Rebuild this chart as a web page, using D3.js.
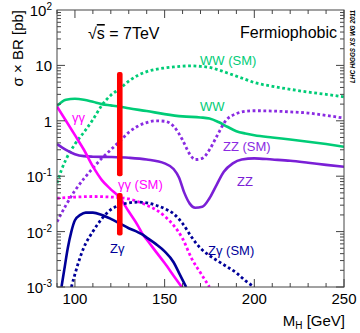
<!DOCTYPE html>
<html>
<head>
<meta charset="utf-8">
<script src="https://cdn.jsdelivr.net/npm/d3@7"></script>
<style>
  body { margin: 0; background: #fff; }
  text { font-family: "Liberation Sans", Arial, sans-serif; }
</style>
</head>
<body>
<svg id="chart" width="360" height="333"></svg>
<script>
// [M_H, sigma x BR]
const wwSM = [[90,0.075],[92.5,0.13],[95,0.2],[100,0.38],[105,0.62],[110,1.05],[115,1.9],[120,2.9],[125,3.8],[130,5.2],[135,6.6],[140,7.7],[145,8.5],[150,9.0],[155,9.4],[160,9.7],[165,9.8],[170,9.6],[175,9.2],[180,8.3],[185,7.3],[190,6.4],[195,5.6],[200,4.9],[210,4.2],[220,3.7],[230,3.3],[240,3.0],[250,2.7]];
const ww = [[90,1.85],[95,2.4],[100,2.5],[105,2.4],[110,2.2],[115,2.0],[120,1.9],[125,1.8],[130,1.68],[140,1.5],[150,1.32],[160,1.2],[170,1.15],[175,1.1],[180,0.95],[185,0.78],[190,0.65],[195,0.59],[200,0.55],[210,0.5],[220,0.46],[230,0.42],[240,0.38],[250,0.34]];
const zzSM = [[90,0.015],[95,0.03],[100,0.055],[105,0.09],[110,0.14],[115,0.21],[120,0.3],[125,0.43],[130,0.62],[135,0.8],[140,0.93],[145,1.0],[150,0.98],[155,0.8],[160,0.45],[164,0.25],[167,0.2],[171,0.21],[175,0.3],[179,0.52],[184,1.0],[190,1.35],[195,1.48],[200,1.52],[210,1.5],[220,1.45],[230,1.38],[240,1.25],[250,1.12]];
const zz = [[90,0.38],[95,0.3],[100,0.25],[105,0.23],[110,0.225],[120,0.222],[130,0.215],[140,0.2],[150,0.17],[155,0.135],[158,0.095],[161,0.05],[164,0.032],[167,0.027],[171,0.028],[175,0.04],[179,0.07],[183,0.12],[188,0.17],[193,0.2],[200,0.21],[210,0.2],[220,0.19],[230,0.175],[240,0.16],[250,0.148]];
const aaSM = [[90,0.04],[100,0.042],[110,0.043],[120,0.042],[125,0.041],[130,0.039],[135,0.035],[140,0.03],[145,0.025],[150,0.019],[155,0.013],[160,0.0075],[165,0.0033],[170,0.0018],[175,0.001]];
const aa = [[90,1.8],[95,1.0],[100,0.55],[105,0.3],[110,0.15],[115,0.085],[120,0.058],[125,0.041],[130,0.023],[135,0.013],[138,0.0087],[140,0.0072],[145,0.0044],[150,0.0027],[155,0.0016],[160,0.00095]];
const zaSM = [[98,0.001],[100,0.0017],[102,0.0028],[105,0.0052],[110,0.01],[115,0.017],[120,0.025],[125,0.03],[130,0.033],[135,0.034],[140,0.033],[145,0.03],[150,0.026],[155,0.021],[160,0.014],[165,0.008],[170,0.005],[175,0.0037],[180,0.0029],[185,0.0023],[190,0.0018],[195,0.0013],[200,0.001]];
const za = [[92.5,0.001],[94,0.002],[96,0.005],[98,0.01],[100,0.016],[103,0.02],[106,0.022],[110,0.022],[115,0.02],[120,0.017],[125,0.014],[130,0.0115],[135,0.0098],[138,0.0087],[140,0.0078],[145,0.006],[150,0.0044],[155,0.0028],[158,0.0018],[162,0.001]];

// red marker at 125 GeV, two segments [mass, low, high]
const redBars = [[125, 0.1, 7.6], [125, 0.0085, 0.05]];

const xTicks = [100, 150, 200, 250];
const yTicks = [[100, "10", "2"], [10, "10", ""], [1, "1", ""], [0.1, "10", "-1"], [0.01, "10", "-2"], [0.001, "10", "-3"]];

const series = [
  {data: wwSM, color: "#00cc77", dotted: true},
  {data: ww, color: "#00cc77", dotted: false},
  {data: zzSM, color: "#8a2be2", dotted: true},
  {data: zz, color: "#7a1fd6", dotted: false},
  {data: aaSM, color: "#ff00ff", dotted: true},
  {data: aa, color: "#ff00ff", dotted: false},
  {data: zaSM, color: "#000099", dotted: true},
  {data: za, color: "#000099", dotted: false}
];

const labels = [
  {t: "WW (SM)", x: 200, y: 65, c: "#00cc77"},
  {t: "WW", x: 200, y: 111, c: "#00cc77"},
  {t: "ZZ (SM)", x: 223, y: 151, c: "#8a2be2"},
  {t: "ZZ", x: 237, y: 186, c: "#7a1fd6"},
  {t: "γγ", x: 72, y: 122, c: "#ff00ff"},
  {t: "γγ (SM)", x: 118, y: 189, c: "#ff00ff"},
  {t: "Zγ", x: 110, y: 253, c: "#000099"},
  {t: "Zγ (SM)", x: 208, y: 255, c: "#000099"}
];

const mLeft = 57, mRight = 344, mTop = 10, mBottom = 287;
const svg = d3.select("#chart");

const x = d3.scaleLinear().domain([90, 250]).range([mLeft, mRight]);
const y = d3.scaleLog().domain([0.001, 100]).range([mBottom, mTop]);

svg.append("clipPath").attr("id", "clip")
  .append("rect").attr("x", mLeft).attr("y", mTop)
  .attr("width", mRight - mLeft).attr("height", mBottom - mTop);

const line = d3.line()
  .x(d => x(d[0]))
  .y(d => y(d[1]))
  .curve(d3.curveMonotoneX);

const plot = svg.append("g").attr("clip-path", "url(#clip)");

series.forEach(s => {
  plot.append("path")
    .attr("d", line(s.data))
    .attr("fill", "none")
    .attr("stroke", s.color)
    .attr("stroke-width", s.dotted ? 2.8 : 2.6)
    .attr("stroke-dasharray", s.dotted ? "2.8,2.6" : null);
});

plot.selectAll("rect.red")
  .data(redBars)
  .enter()
  .append("rect")
  .attr("class", "red")
  .attr("x", d => x(d[0]) - 2.8)
  .attr("width", 5.6)
  .attr("y", d => y(d[2]))
  .attr("height", d => y(d[1]) - y(d[2]))
  .attr("rx", 2)
  .attr("fill", "#ff0000");

// frame and ticks
const frame = svg.append("g").attr("stroke", "#444").attr("stroke-width", 1);
frame.append("rect")
  .attr("x", mLeft).attr("y", mTop)
  .attr("width", mRight - mLeft).attr("height", mBottom - mTop)
  .attr("fill", "none");

d3.range(90, 251, 10).forEach(m => {
  const len = m % 50 === 0 ? 8 : 4;
  frame.append("line").attr("x1", x(m)).attr("x2", x(m)).attr("y1", mBottom).attr("y2", mBottom - len);
  frame.append("line").attr("x1", x(m)).attr("x2", x(m)).attr("y1", mTop).attr("y2", mTop + len);
});

d3.range(-3, 2).forEach(e => {
  d3.range(1, 10).forEach(k => {
    const v = k * Math.pow(10, e);
    const len = k === 1 ? 8 : 4;
    frame.append("line").attr("x1", mLeft).attr("x2", mLeft + len).attr("y1", y(v)).attr("y2", y(v));
    frame.append("line").attr("x1", mRight).attr("x2", mRight - len).attr("y1", y(v)).attr("y2", y(v));
  });
});

// tick labels
svg.selectAll("text.xt")
  .data(xTicks)
  .enter()
  .append("text")
  .attr("class", "xt")
  .attr("x", d => x(d))
  .attr("y", 304)
  .attr("text-anchor", "middle")
  .attr("font-size", 15)
  .text(d => d);

yTicks.forEach(d => {
  const t = svg.append("text")
    .attr("x", 52)
    .attr("y", y(d[0]) + 6)
    .attr("text-anchor", "end")
    .attr("font-size", 15);
  t.append("tspan").text(d[1]);
  if (d[2]) t.append("tspan").attr("font-size", 10).attr("dy", -6).text(d[2]);
});

// axis titles
svg.append("text")
  .attr("transform", "translate(23,10) rotate(-90)")
  .attr("text-anchor", "end")
  .attr("font-size", 15)
  .text("σ × BR [pb]");

const xt = svg.append("text")
  .attr("x", 345).attr("y", 326)
  .attr("text-anchor", "end")
  .attr("font-size", 15);
xt.append("tspan").text("M");
xt.append("tspan").attr("font-size", 10).attr("dy", 3).text("H");
xt.append("tspan").attr("dy", -3).text(" [GeV]");

const sq = svg.append("text")
  .attr("x", 88).attr("y", 39)
  .attr("font-size", 16);
sq.append("tspan").text("√");
sq.append("tspan").style("text-decoration", "overline").text("s");
sq.append("tspan").text(" = 7TeV");

svg.append("text")
  .attr("x", 337).attr("y", 38)
  .attr("text-anchor", "end")
  .attr("font-size", 16)
  .text("Fermiophobic");

svg.append("text")
  .attr("transform", "translate(355,83) rotate(-90)")
  .attr("font-size", 6.3)
  .attr("font-style", "italic")
  .attr("font-weight", "bold")
  .text("LHC HIGGS XS WG 2011");

svg.selectAll("text.lab")
  .data(labels)
  .enter()
  .append("text")
  .attr("class", "lab")
  .attr("x", d => d.x)
  .attr("y", d => d.y)
  .attr("font-size", 13)
  .attr("fill", d => d.c)
  .text(d => d.t);
</script>
</body>
</html>
